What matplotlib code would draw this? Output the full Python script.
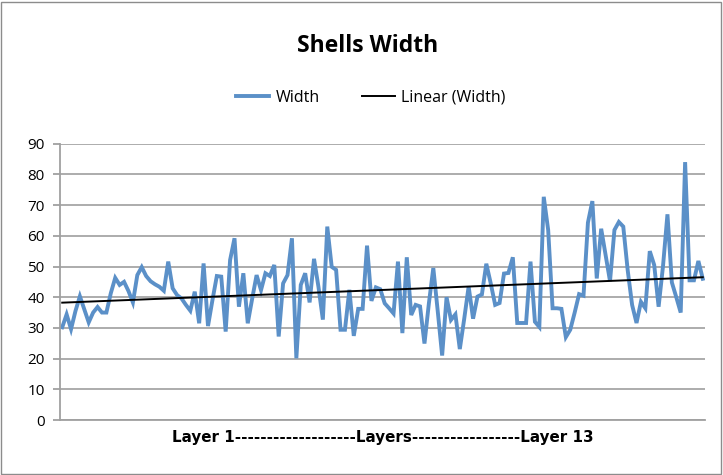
import numpy as np
import matplotlib.pyplot as plt
from matplotlib.patches import Rectangle

# width readings along the layers, left to right
ancho_a = [30.2, 34.4, 29.6, 35.5, 40.3, 36, 31.8, 35, 36.8, 35, 35, 41.3, 46.3, 44, 45, 42,
           38.3, 47.2, 49.8, 46.9, 45.2, 44.2, 43.4, 42.1, 51.6, 42.9, 40.7, 39.6, 37.5, 35.6,
           41.8, 31.5, 51, 30.6, 39, 46.9, 46.7]
ancho_b = [28.8, 52.1, 59.2, 36.9, 47.8, 31.5, 39.5, 47.2, 42.3, 47.8, 46.9, 50.5, 27.2, 44.5,
           47.2, 59.2, 20.1, 44, 47.8, 38.3, 52.5, 43.4, 32.7, 63, 49.9, 48.9, 29.4, 29.4, 42.4,
           27.4, 36.2, 36.2, 56.8, 38.8, 43.2, 42.6]
ancho_c = [38, 36.4, 34.7, 51.6, 28.3, 53, 34.2, 37.5, 37, 24.9, 38, 49.5, 35.5, 21, 40, 32.6,
           34.4, 23.1, 33, 43.5, 33, 40.2, 40.9, 50.9, 44.5, 37.5, 38.1, 47.7, 47.9, 53, 31.6,
           31.6, 31.6, 51.6, 32, 30.3]
ancho_d = [72.7, 61.9, 36.4, 36.4, 36.2, 27, 29.4, 35, 41, 40.5, 64.3, 71.3, 46.1, 62.3, 53.8,
           45.2, 61.9, 64.5, 63, 48.8, 37.5, 31.6, 38.5, 36.4, 55, 50.5, 36.9, 50.2, 67, 44.8,
           40, 35, 84, 45.5, 45.5, 51.8, 46]

ancho = ancho_a + ancho_b + ancho_c + ancho_d
y_ticks = [0, 10, 20, 30, 40, 50, 60, 70, 80, 90]

x = np.arange(len(ancho))

# linear trend like excel
m, b = np.polyfit(x, ancho, 1)
tendencia = m * x + b

plt.rcParams['font.family'] = ['Open Sans', 'DejaVu Sans']

fig = plt.figure(figsize=(7.23, 4.75), dpi=100)
ax = fig.add_axes([60 / 723, 1 - 420 / 475, 645 / 723, (420 - 143.7) / 475])

ax.plot(x, ancho, color='#5b90c8', linewidth=2.8, label='Width', solid_joinstyle='miter')
ax.plot(x, tendencia, color='black', linewidth=1.4, label='Linear (Width)')

ax.set_xlim(-0.5, len(ancho) - 0.5)
ax.set_ylim(0, 90)
ax.set_yticks(y_ticks)
ax.set_xticks([])
ax.grid(True, axis='y', color='#a6a6a6', linewidth=1.3)
ax.set_axisbelow(True)

for lado in ['top', 'right']:
    ax.spines[lado].set_visible(False)
ax.spines['left'].set_color('#a0a0a0')
ax.spines['bottom'].set_color('#a0a0a0')
ax.spines['left'].set_linewidth(1.3)
ax.spines['bottom'].set_linewidth(1.3)
ax.tick_params(axis='y', length=5, color='#a0a0a0', width=1.3, labelsize=11, pad=6)

ax.set_xlabel('Layer 1-------------------Layers-----------------Layer 13',
              fontsize=10.9, fontweight='bold', labelpad=7, family=['DejaVu Sans'])

fig.text(0.509, 1 - 46 / 475, 'Shells Width', ha='center', va='center',
         fontsize=16.5, fontweight='bold')

fig.legend(loc='center', bbox_to_anchor=(0.513, 1 - 98 / 475), ncol=2, frameon=False,
           fontsize=11.5, handlelength=2.1, columnspacing=2.6, handletextpad=0.4)

# chart border
fig.patches.append(Rectangle((1 / 723, 1 / 475), 720 / 723, 472 / 475, transform=fig.transFigure,
                             fill=False, edgecolor='#8c8c8c', linewidth=1))

fig.savefig('out.png', dpi=100)
